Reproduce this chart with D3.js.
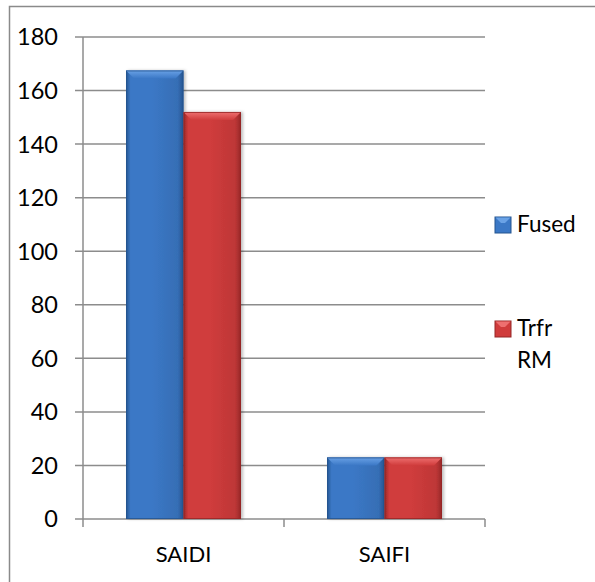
<!DOCTYPE html>
<html>
<head>
<meta charset="utf-8">
<script src="https://cdn.jsdelivr.net/npm/d3@7"></script>
<style>
  html, body { margin: 0; padding: 0; background: #fff; }
  svg { display: block; }
  text { font-family: Lato, "Noto Sans", sans-serif; fill: #000; }
</style>
</head>
<body>
<svg id="chart" width="595" height="582"></svg>
<script>
// Reliability indices per protection scheme
const categories = ["SAIDI", "SAIFI"];
const seriesNames = ["Fused", "Trfr RM"];
const fusedValues = [167.5, 23];
const trfrValues = [152, 23];
const yTicks = [0, 20, 40, 60, 80, 100, 120, 140, 160, 180];

const seriesColors = {
  "Fused":   { base: "#3b78c6", light: "#6aa2e6", dark: "#24548f" },
  "Trfr RM": { base: "#d03c3c", light: "#ee7070", dark: "#952626" }
};

const svg = d3.select("#chart");
const W = 595, H = 582;
const margin = { left: 83, right: 110, top: 37, bottom: 63 };
const plotW = W - margin.left - margin.right;
const plotH = H - margin.top - margin.bottom;

// outer chart frame
svg.append("rect")
  .attr("x", 9.5).attr("y", 6.5)
  .attr("width", W + 10).attr("height", H + 10)
  .attr("fill", "none").attr("stroke", "#8a8a8a").attr("stroke-width", 1.5);

const defs = svg.append("defs");
seriesNames.forEach((name, i) => {
  const c = seriesColors[name];
  const g = defs.append("linearGradient").attr("id", "grad" + i)
    .attr("x1", "0").attr("x2", "1").attr("y1", "0").attr("y2", "0");
  g.append("stop").attr("offset", "0%").attr("stop-color", c.dark);
  g.append("stop").attr("offset", "8%").attr("stop-color", c.base);
  g.append("stop").attr("offset", "45%").attr("stop-color", c.base);
  g.append("stop").attr("offset", "90%").attr("stop-color", d3.color(c.base).darker(0.25));
  g.append("stop").attr("offset", "100%").attr("stop-color", c.dark);
  const t = defs.append("linearGradient").attr("id", "top" + i)
    .attr("x1", "0").attr("x2", "0").attr("y1", "0").attr("y2", "1");
  t.append("stop").attr("offset", "0%").attr("stop-color", c.light);
  t.append("stop").attr("offset", "100%").attr("stop-color", c.base);
});
const shadow = defs.append("filter").attr("id", "shadow")
  .attr("x", "-20%").attr("y", "-5%").attr("width", "140%").attr("height", "110%");
shadow.append("feDropShadow").attr("dx", 2).attr("dy", 0).attr("stdDeviation", 1.5)
  .attr("flood-color", "#000").attr("flood-opacity", 0.25);

const g = svg.append("g").attr("transform", `translate(${margin.left},${margin.top})`);

const x0 = d3.scaleBand().domain(categories).range([0, plotW]).paddingInner(0).paddingOuter(0);
const x1 = d3.scaleBand().domain(seriesNames).range([43, x0.bandwidth() - 43]).padding(0);
const y = d3.scaleLinear().domain([0, 180]).range([plotH, 0]);

// horizontal gridlines
g.append("g").selectAll("line").data(yTicks).join("line")
  .attr("x1", -8).attr("x2", plotW)
  .attr("y1", d => y(d)).attr("y2", d => y(d))
  .attr("stroke", "#8c8c8c").attr("stroke-width", 1.5);

// y axis line
g.append("line").attr("x1", 0).attr("x2", 0).attr("y1", 0).attr("y2", plotH)
  .attr("stroke", "#8c8c8c").attr("stroke-width", 1.5);

// y tick labels
g.append("g").selectAll("text").data(yTicks).join("text")
  .attr("x", -25).attr("y", d => y(d)).attr("dy", "0.36em")
  .attr("text-anchor", "end").attr("font-size", 23.5).text(d => d);

// x category ticks at band boundaries
const xTickPos = [0, ...categories.map(c => x0(c) + x0.bandwidth())];
g.append("g").selectAll("line").data(xTickPos).join("line")
  .attr("x1", d => d).attr("x2", d => d).attr("y1", plotH).attr("y2", plotH + 8)
  .attr("stroke", "#8c8c8c").attr("stroke-width", 1.5);

// x category labels
g.append("g").selectAll("text").data(categories).join("text")
  .attr("x", c => x0(c) + x0.bandwidth() / 2).attr("y", plotH + 43)
  .attr("text-anchor", "middle").attr("font-size", 22).text(c => c);

// bars
const rows = [];
categories.forEach((c, ci) => {
  rows.push({ cat: c, series: "Fused", si: 0, value: fusedValues[ci] });
  rows.push({ cat: c, series: "Trfr RM", si: 1, value: trfrValues[ci] });
});

const bars = g.append("g").selectAll("g").data(rows).join("g")
  .attr("transform", d => `translate(${x0(d.cat) + x1(d.series)},${y(d.value)})`);

bars.each(function(d) {
  const sel = d3.select(this);
  const w = x1.bandwidth();
  const h = y(0) - y(d.value);
  const c = seriesColors[d.series];
  const bev = Math.min(8, h / 3);
  sel.append("rect").attr("width", w).attr("height", h)
    .attr("fill", `url(#grad${d.si})`).attr("filter", "url(#shadow)");
  // beveled top face
  sel.append("path")
    .attr("d", `M0,0 L${w},0 L${w - bev},${bev} L${bev},${bev} Z`)
    .attr("fill", `url(#top${d.si})`);
  // edge outline
  sel.append("rect").attr("x", 0.5).attr("y", 0.5).attr("width", w - 1).attr("height", h - 1)
    .attr("fill", "none").attr("stroke", c.dark).attr("stroke-width", 1).attr("stroke-opacity", 0.8);
});

// legend
const legend = svg.append("g").attr("transform", "translate(495,0)");
const legendItems = [
  { name: "Fused", si: 0, y: 217, lines: ["Fused"] },
  { name: "Trfr RM", si: 1, y: 321, lines: ["Trfr", "RM"] }
];
legendItems.forEach(it => {
  const c = seriesColors[it.name];
  const lg = legend.append("g").attr("transform", `translate(0,${it.y})`);
  lg.append("rect").attr("width", 16).attr("height", 16).attr("fill", c.base)
    .attr("stroke", c.dark).attr("stroke-width", 1);
  lg.append("path").attr("d", "M0.5,0.5 L15.5,0.5 L10,6 L6,6 Z").attr("fill", c.light);
  it.lines.forEach((t, i) => {
    lg.append("text").attr("x", 22).attr("y", 15 + i * 32)
      .attr("font-size", 22.5).text(t);
  });
});
</script>
</body>
</html>
